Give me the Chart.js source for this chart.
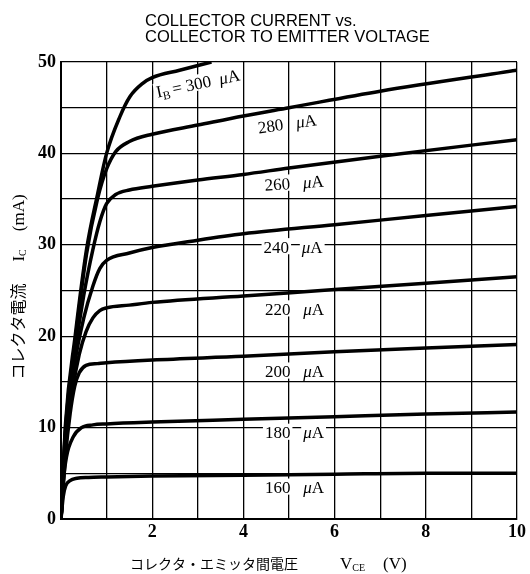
<!DOCTYPE html>
<html><head><meta charset="utf-8">
<script src="https://cdn.jsdelivr.net/npm/chart.js@4/dist/chart.umd.min.js"></script>
<style>html,body{margin:0;padding:0;background:#fff}#wrap{width:530px;height:574px}</style>
</head><body><div id="wrap"><canvas id="c" width="530" height="574"></canvas></div>
<script>
// ---- data ----
const titleLines = ['COLLECTOR CURRENT vs.', 'COLLECTOR TO EMITTER VOLTAGE'];
const xTitleJa = 'コレクタ・エミッタ間電圧';
const xTitleSym = ['V', 'CE', '(V)'];
const yTitleJa = 'コレクタ電流';
const yTitleSym = ['I', 'C', '(mA)'];
const baseCurrents = [160, 180, 200, 220, 240, 260, 280, 300];   // µA

const vce160 = [0, 0.05, 0.1, 0.2, 0.35, 0.6, 1, 2, 4, 6, 8, 10];
const ic160  = [0, 2.5, 3.6, 4.2, 4.45, 4.55, 4.6, 4.7, 4.8, 4.9, 5.0, 5.0];
const vce180 = [0, 0.05, 0.12, 0.27, 0.45, 0.7, 1, 2, 4, 6, 8, 10];
const ic180  = [0, 4, 6.8, 9.0, 10.0, 10.3, 10.4, 10.6, 10.9, 11.2, 11.5, 11.7];
const vce200 = [0, 0.1, 0.2, 0.3, 0.4, 0.55, 0.8, 1, 2, 4, 6, 8, 10];
const ic200  = [0, 7, 11.5, 14.5, 16.0, 16.8, 17.0, 17.1, 17.4, 17.8, 18.3, 18.7, 19.1];
const vce220 = [0, 0.1, 0.25, 0.4, 0.55, 0.7, 0.85, 1, 1.5, 2, 4, 6, 8, 10];
const ic220  = [0, 8, 14, 18, 20.5, 22, 22.8, 23.1, 23.4, 23.7, 24.4, 25.1, 25.8, 26.5];
const vce240 = [0, 0.1, 0.3, 0.5, 0.7, 0.85, 1, 1.5, 2, 3, 4, 6, 8, 10];
const ic240  = [0, 9, 17, 22, 25.5, 27.4, 28.3, 29.1, 29.7, 30.5, 31.2, 32.2, 33.2, 34.2];
const vce260 = [0, 0.1, 0.3, 0.5, 0.7, 0.85, 1, 1.2, 1.5, 2, 3, 4, 5, 7, 10];
const ic260  = [0, 9.5, 18, 24.5, 29.5, 32.5, 34.5, 35.5, 36.0, 36.4, 37.1, 37.7, 38.4, 39.7, 41.5];
const vce280 = [0, 0.1, 0.3, 0.56, 0.8, 1, 1.2, 1.5, 2, 3, 4, 5, 7, 10];
const ic280  = [0, 10, 19, 29, 35, 38.3, 40.2, 41.3, 42.1, 43.1, 44.1, 45.0, 46.8, 49.1];
const vce300 = [0, 0.1, 0.31, 0.56, 0.8, 1, 1.29, 1.51, 1.8, 2, 2.6, 3.3];
const ic300  = [0, 10.5, 20, 29.5, 35.5, 40, 44, 46.2, 47.7, 48.3, 49.1, 50];

const vceSets = [vce160, vce180, vce200, vce220, vce240, vce260, vce280, vce300];
const icSets  = [ic160, ic180, ic200, ic220, ic240, ic260, ic280, ic300];

// label anchors (data coordinates) and tilt
const labelVce = [5.12, 5.12, 5.12, 5.12, 5.09, 5.11, 4.96, 3.0];
const labelIc  = [3.5, 9.5, 16.2, 23.0, 29.8, 36.8, 43.3, 47.7];
const labelTilt = [0, 0, 0, 0, 0, -4, -8, -12];

const xTickValues = [0, 2, 4, 6, 8, 10];
const yTickValues = [0, 10, 20, 30, 40, 50];

// ---- chart ----
const datasets = baseCurrents.map((ib, k) => ({
  label: ib + ' µA',
  data: vceSets[k].map((v, j) => ({x: v, y: icSets[k][j]})),
  showLine: true, borderColor: '#000', borderWidth: 3.5, pointRadius: 0,
  cubicInterpolationMode: 'monotone', fill: false
}));

const serif = '"Liberation Serif", "Noto Sans CJK JP", serif';

function drawRich(ctx, segs, cx, cy, angleDeg, size, boxes) {
  ctx.save();
  ctx.translate(cx, cy);
  ctx.rotate(angleDeg * Math.PI / 180);
  const items = segs.map(s => {
    const fs = s.sub ? size * 0.68 : size;
    const font = (s.italic ? 'italic ' : '') + fs + 'px ' + serif;
    ctx.font = font;
    return {s, font, w: ctx.measureText(s.t).width + (s.gap || 0)};
  });
  const total = items.reduce((a, b) => a + b.w, 0);
  let x = -total / 2;
  if (boxes) {
    ctx.fillStyle = '#fff';
    let bx = x, start = x;
    items.forEach(it => {
      if (it.s.t.trim() === '') {
        if (bx > start) ctx.fillRect(start - 2, -size * 0.5, bx - start + 4, size * 0.95);
        start = bx + it.w;
      }
      bx += it.w;
    });
    if (bx > start) ctx.fillRect(start - 2, -size * 0.5, bx - start + 4, size * 0.95);
  }
  ctx.fillStyle = '#000';
  ctx.textBaseline = 'alphabetic';
  items.forEach(it => {
    ctx.font = it.font;
    const dy = it.s.sub ? size * 0.55 : size * 0.36;
    ctx.fillText(it.s.t, x, dy);
    x += it.w;
  });
  ctx.restore();
}

const decor = {
  id: 'decor',
  beforeDraw(chart) {
    const ctx = chart.ctx;
    ctx.save(); ctx.fillStyle = '#fff'; ctx.fillRect(0, 0, chart.width, chart.height); ctx.restore();
  },
  afterDatasetsDraw(chart) {
    const ctx = chart.ctx;
    const xs = chart.scales.x, ys = chart.scales.y;
    baseCurrents.forEach((ib, k) => {
      const px = xs.getPixelForValue(labelVce[k]);
      const py = ys.getPixelForValue(labelIc[k]);
      let segs;
      if (ib === 300) {
        segs = [{t: 'I'}, {t: 'B', sub: true, gap: 3}, {t: '= 300'}, {t: '  '}, {t: 'μ', italic: true}, {t: 'A'}];
      } else {
        segs = [{t: String(ib)}, {t: '   '}, {t: 'μ', italic: true}, {t: 'A'}];
      }
      drawRich(ctx, segs, px, py, labelTilt[k], 17, true);
    });
  },
  afterDraw(chart) {
    const ctx = chart.ctx;
    ctx.save();
    ctx.fillStyle = '#000';
    ctx.font = '16.5px "Liberation Sans", Arial, sans-serif';
    ctx.textBaseline = 'alphabetic';
    ctx.fillText(titleLines[0], 145, 26);
    ctx.fillText(titleLines[1], 145, 42);
    // x title
    ctx.font = '14px ' + serif;
    const jaW = ctx.measureText(xTitleJa).width;
    let x = 130;
    ctx.fillText(xTitleJa, x, 569);
    x += jaW + 42;
    ctx.font = '17px ' + serif;
    ctx.fillText(xTitleSym[0], x, 569);
    x += ctx.measureText(xTitleSym[0]).width;
    ctx.font = '10px ' + serif;
    ctx.fillText(xTitleSym[1], x, 571);
    x += ctx.measureText(xTitleSym[1]).width + 18;
    ctx.font = '17px ' + serif;
    ctx.fillText(xTitleSym[2], x, 569);
    // y title (rotated)
    ctx.translate(24, 287);
    ctx.rotate(-Math.PI / 2);
    ctx.font = '16px ' + serif;
    const yj = ctx.measureText(yTitleJa).width;
    ctx.font = '17px ' + serif;
    const iw = ctx.measureText(yTitleSym[0]).width;
    ctx.font = '10px ' + serif;
    const cw = ctx.measureText(yTitleSym[1]).width;
    ctx.font = '17px ' + serif;
    const mw = ctx.measureText(yTitleSym[2]).width;
    const g1 = 22, g2 = 18;
    const tot = yj + g1 + iw + cw + g2 + mw;
    let yx = -tot / 2;
    ctx.font = '16px ' + serif;
    ctx.fillText(yTitleJa, yx, 0);
    yx += yj + g1;
    ctx.font = '17px ' + serif;
    ctx.fillText(yTitleSym[0], yx, 0);
    yx += iw;
    ctx.font = '10px ' + serif;
    ctx.fillText(yTitleSym[1], yx, 2);
    yx += cw + g2;
    ctx.font = '17px ' + serif;
    ctx.fillText(yTitleSym[2], yx, 0);
    ctx.restore();
  }
};

new Chart(document.getElementById('c'), {
  type: 'scatter',
  data: {datasets},
  plugins: [decor],
  options: {
    responsive: false, animation: false, devicePixelRatio: 1,
    layout: {padding: {left: 0, right: 13, top: 62, bottom: 0}},
    plugins: {legend: {display: false}, tooltip: {enabled: false}, title: {display: false}},
    scales: {
      x: {
        type: 'linear', min: 0, max: 10,
        afterFit: s => { s.height = 55; },
        grid: {color: '#000', lineWidth: 1.3, drawTicks: false},
        border: {color: '#000', width: 2},
        ticks: {
          stepSize: 1, padding: 3, color: '#000',
          font: {family: '"Liberation Serif", serif', size: 18, weight: 'bold'},
          callback: v => (xTickValues.includes(v) && v !== 0) ? String(v) : ''
        }
      },
      y: {
        type: 'linear', min: 0, max: 50,
        afterFit: s => { s.width = 61; },
        grid: {color: '#000', lineWidth: 1.3, drawTicks: false},
        border: {color: '#000', width: 2},
        ticks: {
          stepSize: 5, padding: 5, color: '#000',
          font: {family: '"Liberation Serif", serif', size: 18, weight: 'bold'},
          callback: v => yTickValues.includes(v) ? String(v) : ''
        }
      }
    }
  }
});
</script>
</body></html>
